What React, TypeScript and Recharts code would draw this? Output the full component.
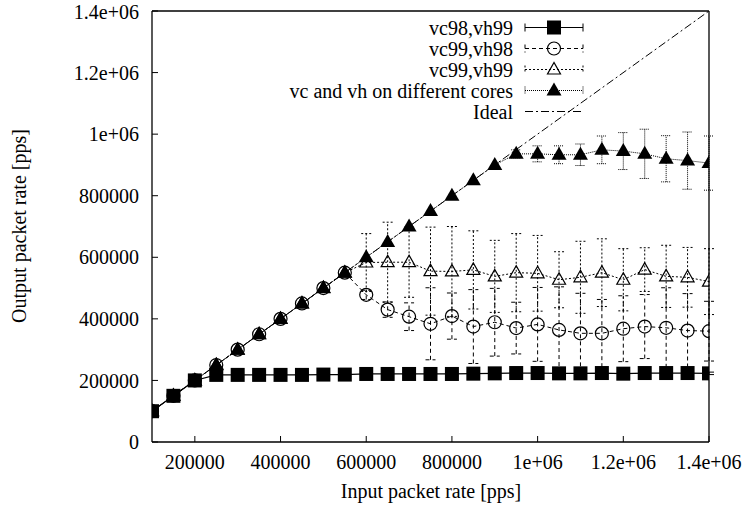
import { ComposedChart, Line, XAxis, YAxis, ErrorBar } from "recharts";

// input packet rate [pps], shared by every measured series
const inputRate = [
  100000, 150000, 200000, 250000, 300000, 350000, 400000, 450000, 500000, 550000,
  600000, 650000, 700000, 750000, 800000, 850000, 900000, 950000, 1000000, 1050000,
  1100000, 1150000, 1200000, 1250000, 1300000, 1350000, 1400000,
];

const vc98vh99 = [
  100000, 150000, 200000, 218000, 218000, 218000, 218000, 218000, 219000, 219000,
  221000, 221000, 221000, 221000, 221000, 222000, 223000, 224000, 224000, 223000,
  223000, 224000, 222000, 224000, 224000, 224000, 223000,
];
const vc98vh99Err = [
  0, 0, 0, 3000, 3000, 3000, 3000, 3000, 3000, 3000,
  3000, 3000, 3000, 3000, 3000, 3000, 4000, 4000, 5000, 14000,
  12000, 5000, 4000, 4000, 4000, 4000, 4000,
];

const vc99vh98 = [
  100000, 150000, 200000, 250000, 300000, 350000, 400000, 450000, 500000, 550000,
  478000, 430000, 407000, 384000, 409000, 375000, 389000, 370000, 382000, 364000,
  353000, 353000, 368000, 375000, 371000, 362000, 360000,
];
const vc99vh98Err = [
  0, 0, 0, 0, 0, 0, 0, 0, 0, 0,
  15000, 25000, 45000, 117000, 75000, 120000, 110000, 84000, 120000, 140000,
  130000, 110000, 107000, 104000, 130000, 120000, 97000,
];

const vc99vh99 = [
  100000, 150000, 200000, 250000, 300000, 350000, 400000, 450000, 500000, 550000,
  583000, 584000, 584000, 555000, 554000, 559000, 538000, 550000, 548000, 527000,
  535000, 550000, 527000, 560000, 538000, 535000, 521000,
];
const vc99vh99Err = [
  0, 0, 0, 0, 0, 0, 0, 0, 0, 0,
  94000, 130000, 114000, 143000, 146000, 127000, 117000, 127000, 123000, 91000,
  117000, 110000, 101000, 71000, 101000, 97000, 107000,
];

const diffCores = [
  100000, 150000, 200000, 250000, 300000, 350000, 400000, 450000, 500000, 550000,
  600000, 650000, 700000, 750000, 800000, 850000, 900000, 936000, 936000, 933000,
  933000, 949000, 945000, 936000, 920000, 914000, 906000,
];
const diffCoresErr = [
  0, 0, 0, 0, 0, 0, 0, 0, 0, 0,
  0, 0, 0, 0, 0, 0, 0, 13000, 26000, 29000,
  35000, 45000, 60000, 80000, 75000, 93000, 88000,
];

const idealRate = [100000, 1400000];

const xTicks = [200000, 400000, 600000, 800000, 1000000, 1200000, 1400000];
const xTickLabels = ["200000", "400000", "600000", "800000", "1e+06", "1.2e+06", "1.4e+06"];
const yTicks = [0, 200000, 400000, 600000, 800000, 1000000, 1200000, 1400000];
const yTickLabels = ["0", "200000", "400000", "600000", "800000", "1e+06", "1.2e+06", "1.4e+06"];

const seriesNames = ["vc98,vh99", "vc99,vh98", "vc99,vh99", "vc and vh on different cores", "Ideal"];
const xTitle = "Input packet rate [pps]";
const yTitle = "Output packet rate [pps]";

const FONT = "Liberation Serif";
const FS = 20;

type Shape = "square" | "circle" | "openTri" | "filledTri" | "none";

// error bars are only kept where the picture shows some spread
const rows = (ys: number[], errs: number[]) =>
  inputRate.map((x, i) => ({ x, y: ys[i], err: errs[i] > 0 ? errs[i] : null }));

const series: { name: string; data: any[]; shape: Shape; dash?: string }[] = [
  { name: seriesNames[3], data: rows(diffCores, diffCoresErr), shape: "filledTri", dash: "1 1" },
  { name: seriesNames[2], data: rows(vc99vh99, vc99vh99Err), shape: "openTri", dash: "2 2" },
  { name: seriesNames[1], data: rows(vc99vh98, vc99vh98Err), shape: "circle", dash: "4 3" },
  { name: seriesNames[0], data: rows(vc98vh99, vc98vh99Err), shape: "square" },
];

function Marker({ shape, cx, cy }: { shape: Shape; cx: number; cy: number }) {
  if (shape === "square") return <rect x={cx - 7} y={cy - 7} width={14} height={14} fill="#000" />;
  if (shape === "circle") return <circle cx={cx} cy={cy} r={6.5} fill="none" stroke="#000" strokeWidth={1.2} />;
  if (shape === "openTri")
    return (
      <polygon
        points={`${cx},${cy - 7} ${cx - 6.5},${cy + 4.5} ${cx + 6.5},${cy + 4.5}`}
        fill="none"
        stroke="#000"
        strokeWidth={1.2}
      />
    );
  if (shape === "filledTri")
    return <polygon points={`${cx},${cy - 8} ${cx - 7.5},${cy + 5} ${cx + 7.5},${cy + 5}`} fill="#000" />;
  return null;
}

const legendY0 = 27.5;
const legendStep = 21;
const legendTextRight = 513;
const sampleLeft = 525;
const sampleRight = 583;
const legendShapes: Shape[] = ["square", "circle", "openTri", "filledTri", "none"];
const legendDash: (string | undefined)[] = [undefined, "4 3", "2 2", "1 1", "8 3 2 3"];

function LegendBlock() {
  return (
    <g>
      {seriesNames.map((name, i) => {
        const y = legendY0 + i * legendStep;
        const mid = (sampleLeft + sampleRight) / 2;
        const hasErr = legendShapes[i] !== "none";
        return (
          <g key={name}>
            <text x={legendTextRight} y={y} dy="0.35em" textAnchor="end" fontFamily={FONT} fontSize={FS} fill="#000">
              {name}
            </text>
            <line x1={sampleLeft} x2={sampleRight} y1={y} y2={y} stroke="#000" strokeWidth={1} strokeDasharray={legendDash[i]} />
            {hasErr && (
              <>
                <line x1={sampleLeft} x2={sampleLeft} y1={y - 4} y2={y + 4} stroke="#000" strokeDasharray={legendDash[i]} />
                <line x1={sampleRight} x2={sampleRight} y1={y - 4} y2={y + 4} stroke="#000" strokeDasharray={legendDash[i]} />
              </>
            )}
            <Marker shape={legendShapes[i]} cx={mid} cy={y} />
          </g>
        );
      })}
    </g>
  );
}

const axisLine = { stroke: "#000", strokeWidth: 1.3 };
const tickLine = { stroke: "#000" };
const tickText = { fontFamily: FONT, fontSize: FS, fill: "#000" };

export default function App() {
  return (
    <div style={{ position: "absolute", left: 0, top: 0, background: "#fff" }}>
      <ComposedChart width={749} height={509} margin={{ top: 10, right: 39, bottom: 0, left: 0 }}>
        <XAxis
          dataKey="x"
          type="number"
          domain={[100000, 1400000]}
          ticks={xTicks}
          allowDataOverflow
          tickFormatter={(v: number) => xTickLabels[xTicks.indexOf(v)] ?? ""}
          height={67}
          tickSize={-6}
          tickMargin={19}
          tick={tickText}
          axisLine={axisLine}
          tickLine={tickLine}
        />
        <XAxis
          xAxisId="top"
          orientation="top"
          dataKey="x"
          type="number"
          domain={[100000, 1400000]}
          ticks={xTicks}
          allowDataOverflow
          height={1}
          tickSize={-6}
          tick={false}
          axisLine={axisLine}
          tickLine={tickLine}
        />
        <YAxis
          type="number"
          domain={[0, 1400000]}
          ticks={yTicks}
          allowDataOverflow
          tickFormatter={(v: number) => yTickLabels[yTicks.indexOf(v)] ?? ""}
          width={152}
          tickSize={-6}
          tickMargin={19}
          tick={tickText}
          axisLine={axisLine}
          tickLine={tickLine}
        />
        <YAxis
          yAxisId="right"
          orientation="right"
          type="number"
          domain={[0, 1400000]}
          ticks={yTicks}
          allowDataOverflow
          width={1}
          tickSize={-6}
          tick={false}
          axisLine={axisLine}
          tickLine={tickLine}
        />

        {/* Ideal line sits on the mirrored axes (same domains) so they get drawn */}
        <Line
          xAxisId="top"
          yAxisId="right"
          data={idealRate.map((x) => ({ x, y: x }))}
          dataKey="y"
          name={seriesNames[4]}
          stroke="#000"
          strokeWidth={1}
          strokeDasharray="8 3 2 3"
          dot={false}
          activeDot={false}
          isAnimationActive={false}
        />
        {series.map((s) => (
          <Line
            key={s.name}
            data={s.data}
            dataKey="y"
            name={s.name}
            stroke="#000"
            strokeWidth={s.shape === "square" ? 1.2 : 1}
            strokeDasharray={s.dash}
            dot={(p: any) => <Marker key={`${s.name}-${p.index}`} shape={s.shape} cx={p.cx} cy={p.cy} />}
            activeDot={false}
            isAnimationActive={false}
          >
            <ErrorBar dataKey="err" width={5} stroke="#000" strokeWidth={1} strokeDasharray={s.dash} />
          </Line>
        ))}

        <LegendBlock />
        <text x={431} y={498} textAnchor="middle" fontFamily={FONT} fontSize={FS} fill="#000">
          {xTitle}
        </text>
        <text transform="rotate(-90)" x={-226} y={26} textAnchor="middle" fontFamily={FONT} fontSize={FS} fill="#000">
          {yTitle}
        </text>
      </ComposedChart>
    </div>
  );
}
